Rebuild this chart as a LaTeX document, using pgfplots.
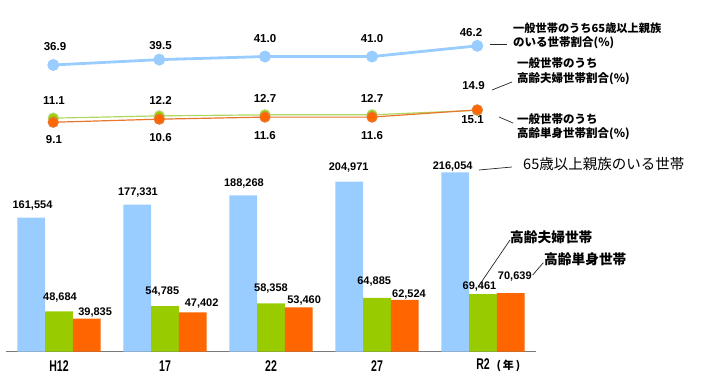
\documentclass[border=0pt]{standalone}
\usepackage{pgfplots}
\pgfplotsset{compat=1.18}
\usepackage{pgfplotstable}
\usepackage{fontspec}
\setmainfont{Liberation Sans}
\newfontfamily\narrowfont{Liberation Sans}[FakeStretch=0.68]
\newfontfamily\cjk{Noto Sans CJK JP}
\definecolor{cblue}{HTML}{99CCFF}
\definecolor{cgreen}{HTML}{99CC00}
\definecolor{corange}{HTML}{FF6600}
\definecolor{lgreen}{HTML}{B0D860}
\definecolor{lorange}{HTML}{E8772E}
\definecolor{axgray}{HTML}{7A7A7A}

% bar data: x value dx dy (label offsets in px)
\pgfplotstableread{
x y dx dy
0 161554 1.3 12.3
1 177331 0.7 12.3
2 188268 0.7 12.3
3 204971 -0.5 14.4
4 216054 -2.5 6.3
}\barA
\pgfplotstableread{
x y dx dy
0 48684 1 13.7
1 54785 -2.7 15
2 58358 0 14.3
3 64885 -2.8 16.6
4 69461 -3.5 7.3
}\barB
\pgfplotstableread{
x y dx dy
0 39835 8.3 6.3
1 47402 8.8 8.7
2 53460 5.3 6.7
3 62524 4.2 5.7
4 70639 4 16.7
}\barC
% line data (percent)
\pgfplotstableread{
x y dx dy
-0.054 36.9 1.7 18.3
0.946 39.5 1.2 14.3
1.943 41.0 0 17.7
2.953 41.0 0 17.7
3.946 46.2 -6.3 13.4
}\lineA
\pgfplotstableread{
x y dx dy
-0.054 11.1 0.7 17.3
0.946 12.2 1.2 15
1.943 12.7 0 16.6
2.953 12.7 0 16.6
3.946 14.9 -3.8 24.3
}\lineB
\pgfplotstableread{
x y dx dy
-0.054 9.1 0.7 -17.3
0.946 10.6 1.2 -18.3
1.943 11.6 0 -18.7
2.953 11.6 0 -18.7
3.946 15.1 -4.8 -10
}\lineC

\pgfplotsset{
  lbl/.style={
    nodes near coords,
    visualization depends on={\thisrow{dx}\as\ldx},
    visualization depends on={\thisrow{dy}\as\ldy},
    every node near coord/.append style={anchor=center, xshift=\ldx pt, yshift=\ldy pt, text=black, inner sep=0pt},
  },
  barlbl/.style={lbl,
    nodes near coords={\pgfmathprintnumber[fixed,precision=0,1000 sep={,},assume math mode=true]{\pgfplotspointmeta}},
    every node near coord/.append style={font=\bfseries\fontsize{11}{13}\selectfont},
  },
  linelbl/.style={lbl,
    nodes near coords={\pgfmathprintnumber[fixed,fixed zerofill,precision=1,assume math mode=true]{\pgfplotspointmeta}},
    every node near coord/.append style={font=\bfseries\fontsize{11.5}{13}\selectfont},
  },
}

\begin{document}
\begin{tikzpicture}
\path[use as bounding box] (0pt,0pt) rectangle (706pt,386pt);

\begin{axis}[
  at={(6pt,34.3pt)}, anchor=south west, scale only axis,
  width=530pt, height=207.5pt,
  xmin=-0.5, xmax=4.5, ymin=0, ymax=250000,
  axis x line=bottom, axis y line=none,
  axis line style={-, draw=axgray, line width=1.4pt},
  xtick={0,1,2,3,4},
  xticklabels={H12,17,22,27,R2\rlap{\hspace{7pt}\cjk\fontsize{11}{13}\selectfont (\,年\,)}},
  major tick length=0pt,
  xticklabel style={anchor=center, yshift=-14pt, inner sep=0pt, font=\narrowfont\bfseries\fontsize{15.5}{17}\selectfont},
  ybar=0pt, bar width=27.8pt,
  clip=false,
]
\addplot[fill=cblue, draw=none, barlbl] table {\barA};
\addplot[fill=cgreen, draw=none, barlbl] table {\barB};
\addplot[fill=corange, draw=none, barlbl] table {\barC};
\end{axis}

\begin{axis}[
  at={(6pt,245pt)}, anchor=south west, scale only axis,
  width=530pt, height=103pt,
  xmin=-0.5, xmax=4.5, ymin=0, ymax=50,
  hide axis, clip=false,
]
\addplot[cblue, line width=2.8pt, mark=*, mark size=4.5pt, mark options={draw=none, fill=cblue}, linelbl] table {\lineA};
\addplot[lgreen, line width=1.2pt, mark=*, mark size=5pt, mark options={draw=none, fill=cgreen}, linelbl] table {\lineB};
\addplot[lorange, line width=1.2pt, mark=*, mark size=5pt, mark options={draw=none, fill=corange}, linelbl] table {\lineC};
\end{axis}

% annotations
\begin{scope}[every node/.style={anchor=west, inner sep=0pt, text=black}]
\node at (513pt,358pt) {\cjk\bfseries\fontsize{11.2}{13}\selectfont 一般世帯のうち65歳以上親族};
\node at (513pt,343pt) {\cjk\bfseries\fontsize{11.5}{13}\selectfont のいる世帯割合(\%)};
\node at (517pt,323pt) {\cjk\bfseries\fontsize{11.5}{13}\selectfont 一般世帯のうち};
\node at (517pt,307pt) {\cjk\bfseries\fontsize{11.5}{13}\selectfont 高齢夫婦世帯割合(\%)};
\node at (517pt,267pt) {\cjk\bfseries\fontsize{11.5}{13}\selectfont 一般世帯のうち};
\node at (517pt,252pt) {\cjk\bfseries\fontsize{11.5}{13}\selectfont 高齢単身世帯割合(\%)};
\node at (523pt,222pt) {\cjk\fontsize{14.5}{16}\selectfont 65歳以上親族のいる世帯};
\node at (510pt,149pt) {\cjk\bfseries\fontsize{13.7}{15}\selectfont 高齢夫婦世帯};
\node at (544pt,127pt) {\cjk\bfseries\fontsize{13.7}{15}\selectfont 高齢単身世帯};
\end{scope}
\begin{scope}[line width=0.7pt, draw=black!85]
\draw (490pt,342pt) -- (507pt,342pt);
\draw (492pt,296pt) -- (512pt,304pt);
\draw (499pt,269pt) -- (513pt,263pt);
\draw (479pt,216pt) -- (512pt,219pt);
\draw (478pt,99pt) -- (510pt,146pt);
\draw (532.7pt,111pt) -- (543.3pt,123.3pt);
\end{scope}
\end{tikzpicture}
\end{document}
